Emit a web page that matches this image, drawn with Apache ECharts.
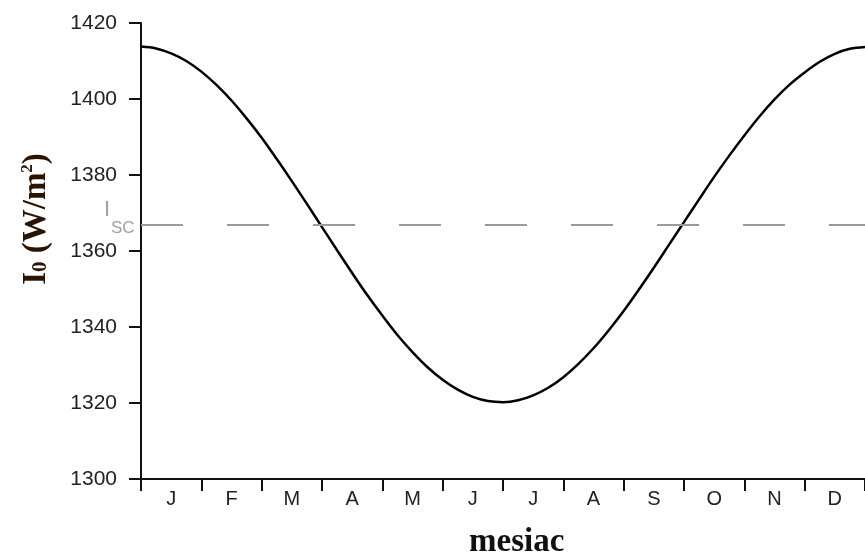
<!DOCTYPE html>
<html>
<head>
<meta charset="utf-8">
<script src="https://cdn.jsdelivr.net/npm/echarts@6/dist/echarts.min.js"></script>
<style>html,body{margin:0;padding:0;background:#fff}#c{width:865px;height:555px}</style>
</head>
<body>
<div id="c"></div>
<script>
const months = ['J','F','M','A','M','J','J','A','S','O','N','D'];
const curveTime = [0,0.25,0.5,0.75,1,1.25,1.5,1.75,2,2.25,2.5,2.75,3,3.25,3.5,3.75,4,4.25,4.5,4.75,5,5.25,5.5,5.75,6,6.25,6.5,6.75,7,7.25,7.5,7.75,8,8.25,8.5,8.75,9,9.25,9.5,9.75,10,10.25,10.5,10.75,11,11.25,11.5,11.75,12];
const curveValues = [1413.8,1413.3,1412.0,1410.0,1407.2,1403.7,1399.6,1394.9,1389.8,1384.2,1378.4,1372.4,1366.3,1360.2,1354.2,1348.4,1343.0,1337.9,1333.4,1329.4,1326.1,1323.5,1321.6,1320.5,1320.2,1320.7,1322.0,1324.0,1326.8,1330.3,1334.4,1339.1,1344.2,1349.8,1355.6,1361.6,1367.6,1373.6,1379.5,1385.1,1390.4,1395.4,1399.9,1403.8,1407.0,1409.8,1411.9,1413.2,1413.7];
const yMin = 1300, yMax = 1420, yStep = 20;
const iscValue = 1367;

const chart = echarts.init(document.getElementById('c'));
chart.setOption({
  animation: false,
  backgroundColor: '#fff',
  grid: { left: 141, right: -12, top: 23, bottom: 76, containLabel: false },
  xAxis: [
    {
      type: 'category', data: months, boundaryGap: true, position: 'bottom',
      axisLine: { lineStyle: { color: '#111', width: 2 } },
      axisTick: { show: true, length: 12, inside: false, lineStyle: { color: '#111', width: 2 } },
      axisLabel: { color: '#222', fontSize: 20, fontFamily: 'Liberation Sans, Arial, sans-serif', margin: 10 },
      splitLine: { show: false }
    },
    {
      type: 'value', min: 0, max: 12, show: false
    }
  ],
  yAxis: {
    type: 'value', min: yMin, max: yMax, interval: yStep,
    axisLine: { show: true, lineStyle: { color: '#111', width: 2 } },
    axisTick: { show: true, length: 12, lineStyle: { color: '#111', width: 2 } },
    axisLabel: { color: '#222', fontSize: 21, fontFamily: 'Liberation Sans, Arial, sans-serif', margin: 24, formatter: v => String(v) },
    splitLine: { show: false }
  },
  graphic: [
    { type: 'text', left: 469, top: 526, style: { text: 'mesiac', font: 'bold 33px "Liberation Serif", "Times New Roman", serif', fill: '#111' } },
    { type: 'text', x: 36, y: 219, rotation: Math.PI / 2, style: {
        text: '{b|I}{s|0}{b| (W/m}{p|2}{b|)}', align: 'center', verticalAlign: 'middle',
        rich: {
          b: { font: 'bold 33px "Liberation Serif", "Times New Roman", serif', fill: '#2a1400' },
          s: { font: 'bold 21px "Liberation Serif", "Times New Roman", serif', fill: '#2a1400', padding: [10, 0, 0, 0] },
          p: { font: 'bold 17px "Liberation Serif", "Times New Roman", serif', fill: '#2a1400', padding: [0, 0, 16, 0] }
        }
      } },
    { type: 'text', left: 104, top: 199, style: { text: 'I', font: '22px "Liberation Sans", Arial, sans-serif', fill: '#a0a0a0' } },
    { type: 'text', left: 111, top: 220, style: { text: 'SC', font: '17px "Liberation Sans", Arial, sans-serif', fill: '#a0a0a0' } }
  ],
  series: [
    {
      type: 'line', xAxisIndex: 1, yAxisIndex: 0,
      data: curveTime.map((t, i) => [t, curveValues[i]]),
      smooth: 0.35, showSymbol: false,
      lineStyle: { color: '#000', width: 2.5 },
      markLine: {
        silent: true, symbol: ['none', 'none'],
        label: { show: false },
        lineStyle: { color: '#9a9a9a', width: 2, type: [42, 44] },
        data: [{ yAxis: iscValue }]
      },
      z: 3
    }
  ]
});
</script>
</body>
</html>
